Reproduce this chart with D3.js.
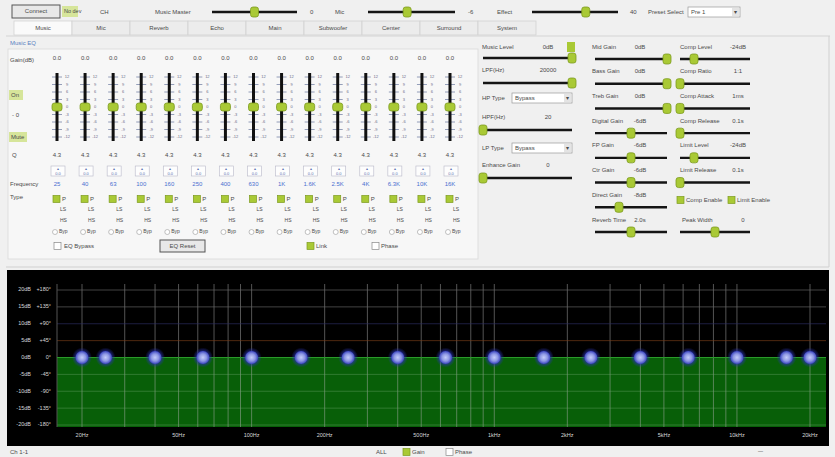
<!DOCTYPE html>
<html>
<head>
<meta charset="utf-8">
<script src="https://cdn.jsdelivr.net/npm/d3@7"></script>
<style>
body { margin: 0; background: #f0f0f0; }
svg { display: block; font-family: "Liberation Sans", Arial, sans-serif; }
</style>
</head>
<body>
<script>
// data
const bandFreqs = [25, 40, 63, 100, 160, 250, 400, 630, 1000, 1600, 2500, 4000, 6300, 10000, 16000];
const bandLabels = ['25', '40', '63', '100', '160', '250', '400', '630', '1K', '1.6K', '2.5K', '4K', '6.3K', '10K', '16K'];
const bandGains = [0, 0, 0, 0, 0, 0, 0, 0, 0, 0, 0, 0, 0, 0, 0];
const bandQ = [4.3, 4.3, 4.3, 4.3, 4.3, 4.3, 4.3, 4.3, 4.3, 4.3, 4.3, 4.3, 4.3, 4.3, 4.3];
const filterFreqs = [20, 20000];   // HPF / LPF handles
const filterGains = [0, 0];
const faderTicks = [12, 9, 6, 3, 0, -3, -6, -9, -12];
const dbTicks = [20, 15, 10, 5, 0, -5, -10, -15, -20];
const phaseTicks = ['+180°', '+135°', '+90°', '+45°', '0°', '-45°', '-90°', '-135°', '-180°'];
const freqTicks = [20, 50, 100, 200, 500, 1000, 2000, 5000, 10000, 20000];
const freqTickLabels = ['20Hz', '50Hz', '100Hz', '200Hz', '500Hz', '1kHz', '2kHz', '5kHz', '10kHz', '20kHz'];
const tabNames = ['Music', 'Mic', 'Reverb', 'Echo', 'Main', 'Subwoofer', 'Center', 'Surround', 'System'];

const colA = [
  { label: 'Music Level', text: '0dB', v: 0, min: -60, max: 0 },
  { label: 'LPF(Hz)', text: '20000', v: 20000, min: 20, max: 20000 },
  { label: 'HPF(Hz)', text: '20', v: 20, min: 20, max: 20000 },
  { label: 'Enhance Gain', text: '0', v: 0, min: 0, max: 10 }
];
const colB = [
  { label: 'Mid Gain', text: '0dB', v: 0, min: -12, max: 0 },
  { label: 'Bass Gain', text: '0dB', v: 0, min: -12, max: 0 },
  { label: 'Treb Gain', text: '0dB', v: 0, min: -12, max: 0 },
  { label: 'Digital Gain', text: '-6dB', v: -6, min: -12, max: 0 },
  { label: 'FP Gain', text: '-6dB', v: -6, min: -12, max: 0 },
  { label: 'Ctr Gain', text: '-6dB', v: -6, min: -12, max: 0 },
  { label: 'Direct Gain', text: '-8dB', v: -8, min: -12, max: 0 },
  { label: 'Reverb Time', text: '2.0s', v: 2, min: 0, max: 4 }
];
const colC = [
  { label: 'Comp Level', text: '-24dB', v: -24, min: -30, max: 0 },
  { label: 'Comp Ratio', text: '1:1', v: 1, min: 1, max: 20 },
  { label: 'Comp Attack', text: '1ms', v: 1, min: 1, max: 100 },
  { label: 'Comp Release', text: '0.1s', v: 0.1, min: 0.1, max: 5 },
  { label: 'Limit Level', text: '-24dB', v: -24, min: -30, max: 0 },
  { label: 'Limit Release', text: '0.1s', v: 0.1, min: 0.1, max: 5 }
];
const peakWidth = { label: 'Peak Width', text: '0', v: 0, min: -10, max: 10 };
const topSliders = [
  { label: 'Music  Master', text: '0', v: 0, min: -60, max: 60 },
  { label: 'Mic', text: '-6', v: -6, min: -60, max: 60 },
  { label: 'Effect', text: '40', v: 40, min: -60, max: 100 }
];

const W = 835, H = 457;
const txt = '#4a4a4a';
const lime = '#a9c935';

let svg = d3.select('body').append('svg').attr('width', W).attr('height', H);
svg.append('rect').attr('width', W).attr('height', H).attr('fill', '#f0f0f0');

function label(g, x, y, t, o = {}) {
  return g.append('text')
    .attr('x', x).attr('y', y)
    .attr('font-size', o.size || 6)
    .attr('fill', o.fill || txt)
    .attr('text-anchor', o.anchor || 'start')
    .attr('dominant-baseline', 'middle')
    .text(t);
}
function knob(g, x, y, w = 8, h = 10) {
  g.append('rect').attr('x', x - w / 2).attr('y', y - h / 2).attr('width', w).attr('height', h)
    .attr('rx', 2.5).attr('fill', lime).attr('stroke', '#7c9a1e').attr('stroke-width', 0.8);
}
function slider(g, x1, x2, y, c) {
  let s = d3.scaleLinear().domain([c.min, c.max]).range([x1, x2]).clamp(true);
  g.append('line').attr('x1', x1).attr('x2', x2).attr('y1', y).attr('y2', y)
    .attr('stroke', '#151515').attr('stroke-width', 2.4);
  knob(g, s(c.v), y);
}
function checkbox(g, x, y, on) {
  g.append('rect').attr('x', x).attr('y', y - 3.5).attr('width', 7).attr('height', 7)
    .attr('fill', on ? lime : '#fff').attr('stroke', on ? '#7c9a1e' : '#888').attr('stroke-width', 0.7);
}
function button(g, x, y, w, h, t) {
  g.append('rect').attr('x', x).attr('y', y).attr('width', w).attr('height', h)
    .attr('fill', '#e8e8e8').attr('stroke', '#555').attr('stroke-width', 1);
  label(g, x + w / 2, y + h / 2, t, { anchor: 'middle' });
}
function dropdown(g, x, y, w, t) {
  g.append('rect').attr('x', x).attr('y', y).attr('width', w).attr('height', 10)
    .attr('fill', '#fff').attr('stroke', '#999').attr('stroke-width', 0.7);
  g.append('rect').attr('x', x + w - 8).attr('y', y + 1).attr('width', 7).attr('height', 8).attr('fill', '#e4e4e4');
  label(g, x + w - 4.5, y + 5, '▾', { anchor: 'middle', size: 6 });
  label(g, x + 3, y + 5, t);
}

// ---- top row
let topRow = svg.append('g');
button(topRow, 12, 5, 48, 13, 'Connect');
topRow.append('rect').attr('x', 62).attr('y', 6).attr('width', 16).attr('height', 11).attr('fill', '#d6e59a');
label(topRow, 64, 12, 'No dev', { size: 5.5 });
label(topRow, 100, 12, 'CH');
const topPos = [[155, 212, 297, 310], [335, 368, 455, 468], [497, 532, 618, 630]];
topSliders.forEach((c, i) => {
  let p = topPos[i];
  label(topRow, p[0], 12, c.label);
  slider(topRow, p[1], p[2], 12, c);
  label(topRow, p[3], 12, c.text);
});
label(topRow, 648, 12, 'Preset Select');
dropdown(topRow, 688, 7, 52, 'Pre 1');

// ---- tabs
let tabs = svg.append('g');
let tabX = d3.scaleBand().domain(tabNames).range([14, 536]);
tabs.selectAll('rect').data(tabNames).enter().append('rect')
  .attr('x', d => tabX(d)).attr('y', 21).attr('width', tabX.bandwidth()).attr('height', 14)
  .attr('fill', (d, i) => i === 0 ? '#fafafa' : '#ececec').attr('stroke', '#cfcfcf').attr('stroke-width', 0.7);
tabs.selectAll('text').data(tabNames).enter().append('text')
  .attr('x', d => tabX(d) + tabX.bandwidth() / 2).attr('y', 28)
  .attr('text-anchor', 'middle').attr('dominant-baseline', 'middle')
  .attr('font-size', 6).attr('fill', txt).text(d => d);
svg.append('line').attr('x1', 6).attr('x2', 830).attr('y1', 36).attr('y2', 36).attr('stroke', '#d4d4d4');

// ---- EQ fader block
let eq = svg.append('g');
eq.append('rect').attr('x', 8).attr('y', 49).attr('width', 470).attr('height', 210)
  .attr('fill', '#f7f7f7').attr('stroke', '#dadada').attr('stroke-width', 0.8);
label(eq, 10, 43, 'Music EQ', { fill: '#5b7fc0' });
label(eq, 10, 60, 'Gain(dB)');
eq.append('rect').attr('x', 9).attr('y', 90).attr('width', 14).attr('height', 10).attr('fill', '#d6e59a');
label(eq, 11, 95, 'On');
label(eq, 12, 115, '- 0');
eq.append('rect').attr('x', 9).attr('y', 132).attr('width', 18).attr('height', 10).attr('fill', '#d6e59a');
label(eq, 11, 137, 'Mute');
label(eq, 12, 155, 'Q');
label(eq, 10, 184, 'Frequency');
label(eq, 10, 197, 'Type');

let fx = d3.scalePoint().domain(d3.range(bandFreqs.length)).range([57, 450]);
let fy = d3.scaleLinear().domain([-12, 12]).range([137, 77]);

bandFreqs.forEach((f, i) => {
  let x0 = fx(i);
  let g = eq.append('g');
  label(g, x0, 58, bandGains[i].toFixed(1), { anchor: 'middle' });
  faderTicks.forEach(t => {
    g.append('line').attr('x1', x0 - 5).attr('x2', x0 + 5).attr('y1', fy(t)).attr('y2', fy(t))
      .attr('stroke', '#7a86a8').attr('stroke-width', 0.8);
    label(g, x0 + 10, fy(t), t, { size: 4, anchor: 'middle', fill: '#6a6a88' });
  });
  g.append('line').attr('x1', x0).attr('x2', x0).attr('y1', 73).attr('y2', 141)
    .attr('stroke', '#101010').attr('stroke-width', 3);
  knob(g, x0, fy(bandGains[i]), 10, 8);
  label(g, x0, 155, bandQ[i].toFixed(1), { anchor: 'middle' });
  g.append('rect').attr('x', x0 - 6).attr('y', 166).attr('width', 14).attr('height', 10)
    .attr('fill', '#fdfdfd').attr('stroke', '#b8b8c8').attr('stroke-width', 0.6);
  label(g, x0 + 1, 169, '▴', { size: 4, anchor: 'middle', fill: '#5b6fb0' });
  label(g, x0 + 1, 174, bandGains[i].toFixed(1), { size: 4, anchor: 'middle', fill: '#5b6fb0' });
  label(g, x0, 184, bandLabels[i], { anchor: 'middle', fill: '#4a6fd0' });
  checkbox(g, x0 - 4, 199, true);
  label(g, x0 + 5, 199, 'P');
  label(g, x0 + 3, 210, 'LS', { size: 5 });
  label(g, x0 + 3, 221, 'HS', { size: 5 });
  g.append('circle').attr('cx', x0 - 2).attr('cy', 232).attr('r', 2.5).attr('fill', '#fff').attr('stroke', '#999').attr('stroke-width', 0.6);
  label(g, x0 + 2, 232, 'Byp', { size: 5 });
});
checkbox(eq, 54, 246, false);
label(eq, 64, 246, 'EQ Bypass');
button(eq, 160, 240, 45, 12, 'EQ Reset');
checkbox(eq, 307, 246, true);
label(eq, 316, 246, 'Link');
checkbox(eq, 372, 246, false);
label(eq, 381, 246, 'Phase');

// ---- right controls
let rc = svg.append('g');
rc.append('line').attr('x1', 829).attr('x2', 829).attr('y1', 36).attr('y2', 267).attr('stroke', '#d0d0d0');
rc.append('line').attr('x1', 6).attr('x2', 829).attr('y1', 267).attr('y2', 267).attr('stroke', '#d0d0d0');
const aRows = [[47, 58], [70, 83], [117, 130], [165, 178]];
colA.forEach((c, i) => {
  label(rc, 482, aRows[i][0], c.label);
  label(rc, 548, aRows[i][0], c.text, { anchor: 'middle' });
  slider(rc, 483, 572, aRows[i][1], c);
});
rc.append('rect').attr('x', 567).attr('y', 42).attr('width', 8).attr('height', 10).attr('fill', lime);
label(rc, 482, 98, 'HP Type');
dropdown(rc, 512, 93, 60, 'Bypass');
label(rc, 482, 148, 'LP Type');
dropdown(rc, 512, 143, 60, 'Bypass');

let rowY = d3.scaleLinear().domain([0, 7]).range([47, 220]);
colB.forEach((c, i) => {
  label(rc, 592, rowY(i), c.label);
  label(rc, 640, rowY(i), c.text, { anchor: 'middle' });
  slider(rc, 595, 667, rowY(i) + 12, c);
});
colC.forEach((c, i) => {
  label(rc, 680, rowY(i), c.label);
  label(rc, 738, rowY(i), c.text, { anchor: 'middle' });
  slider(rc, 680, 750, rowY(i) + 12, c);
});
checkbox(rc, 677, 200, true);
label(rc, 686, 200, 'Comp Enable');
checkbox(rc, 728, 200, true);
label(rc, 737, 200, 'Limit Enable');
label(rc, 682, rowY(7), peakWidth.label);
label(rc, 743, rowY(7), peakWidth.text, { anchor: 'middle' });
slider(rc, 680, 750, rowY(7) + 12, peakWidth);

// ---- response chart
let plot = { left: 57, right: 826, top: 290, bottom: 427 };
let chart = svg.append('g');
chart.append('rect').attr('x', 7).attr('y', 270).attr('width', 822).attr('height', 176).attr('fill', '#000');

let x = d3.scaleLog().domain([20, 20000]).range([82, 810]);
let y = d3.scaleLinear().domain([-20, 20]).range([425, 290]);

// flat response from the band/filter handles, extended to the plot edges
let handles = filterFreqs.map((f, i) => ({ f: f, g: filterGains[i] }))
  .concat(bandFreqs.map((f, i) => ({ f: f, g: bandGains[i] })))
  .sort((a, b) => a.f - b.f);
let curve = [{ f: x.invert(plot.left), g: handles[0].g }].concat(handles)
  .concat([{ f: x.invert(plot.right), g: handles[handles.length - 1].g }]);

chart.append('path').datum(curve)
  .attr('d', d3.area().x(d => x(d.f)).y0(plot.bottom).y1(d => y(d.g)))
  .attr('fill', '#085f08');

// grid
let gridF = [];
[10, 100, 1000, 10000].forEach(d => d3.range(1, 10).forEach(m => {
  let f = d * m;
  if (x(f) >= plot.left && x(f) <= plot.right) gridF.push(f);
}));
chart.selectAll('.vgrid').data(gridF).enter().append('line')
  .attr('class', 'vgrid')
  .attr('x1', d => x(d)).attr('x2', d => x(d)).attr('y1', 284).attr('y2', plot.bottom)
  .attr('stroke', '#b0b0b0').attr('stroke-opacity', 0.6).attr('stroke-width', 0.8);
chart.selectAll('.hgrid').data(dbTicks).enter().append('line')
  .attr('class', 'hgrid')
  .attr('x1', plot.left).attr('x2', plot.right).attr('y1', d => y(d)).attr('y2', d => y(d))
  .attr('stroke', d => d === 5 ? '#7a3d18' : d === 10 ? '#2c2f66' : d < 0 ? '#6fa86f' : '#6a6a6a')
  .attr('stroke-opacity', d => d < 0 ? 0.5 : 0.8).attr('stroke-width', 0.8);
chart.append('line').attr('x1', plot.left).attr('x2', plot.left).attr('y1', 284).attr('y2', plot.bottom)
  .attr('stroke', '#555');
chart.append('path').datum(curve)
  .attr('d', d3.line().x(d => x(d.f)).y(d => y(d.g)))
  .attr('fill', 'none').attr('stroke', '#2a9a2a').attr('stroke-width', 1);

// axis labels
chart.selectAll('.dbl').data(dbTicks).enter().append('text')
  .attr('x', 31).attr('y', d => y(d)).attr('text-anchor', 'end').attr('dominant-baseline', 'middle')
  .attr('font-size', 5.5).attr('fill', '#d8d8d8').text(d => d + 'dB');
chart.selectAll('.phl').data(phaseTicks).enter().append('text')
  .attr('x', 51).attr('y', (d, i) => y(dbTicks[i])).attr('text-anchor', 'end').attr('dominant-baseline', 'middle')
  .attr('font-size', 5.5).attr('fill', '#d8d8d8').text(d => d);
chart.selectAll('.fl').data(freqTicks).enter().append('text')
  .attr('x', d => x(d)).attr('y', 436).attr('text-anchor', 'middle').attr('dominant-baseline', 'middle')
  .attr('font-size', 5.5).attr('fill', '#d8d8d8').text((d, i) => freqTickLabels[i]);

// handles
let defs = svg.append('defs');
let grad = defs.append('radialGradient').attr('id', 'dot');
grad.append('stop').attr('offset', '0%').attr('stop-color', '#c4ccfa');
grad.append('stop').attr('offset', '55%').attr('stop-color', '#8e98e4');
grad.append('stop').attr('offset', '100%').attr('stop-color', '#3c46c0');
let halo = defs.append('radialGradient').attr('id', 'halo');
halo.append('stop').attr('offset', '60%').attr('stop-color', '#2a32b0').attr('stop-opacity', 0.7);
halo.append('stop').attr('offset', '100%').attr('stop-color', '#2a32b0').attr('stop-opacity', 0);
chart.selectAll('.glow').data(handles).enter().append('circle')
  .attr('class', 'glow')
  .attr('cx', d => x(d.f)).attr('cy', d => y(d.g)).attr('r', 10)
  .attr('fill', 'url(#halo)');
chart.selectAll('.pt').data(handles).enter().append('circle')
  .attr('class', 'pt')
  .attr('cx', d => x(d.f)).attr('cy', d => y(d.g)).attr('r', 6.5)
  .attr('fill', 'url(#dot)');

// ---- status strip
let st = svg.append('g');
label(st, 10, 452, 'Ch 1-1');
label(st, 376, 452, 'ALL');
checkbox(st, 403, 452, true);
label(st, 412, 452, 'Gain');
checkbox(st, 446, 452, false);
label(st, 455, 452, 'Phase');
label(st, 758, 452, '—', { size: 5 });
</script>
</body>
</html>
